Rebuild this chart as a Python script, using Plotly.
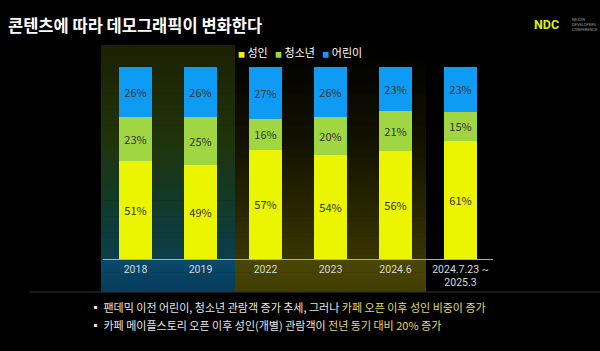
import plotly.graph_objects as go

# ---- data ----
categories = ["2018", "2019", "2022", "2023", "2024.6", "2024.7.23 ~<br>2025.3"]
adult = [51, 49, 57, 54, 56, 61]
teen = [23, 25, 16, 20, 21, 15]
child = [26, 26, 27, 26, 23, 23]
series_names = ["성인", "청소년", "어린이"]
series_colors = ["#EBF500", "#A0D641", "#0E9BF3"]

title_text = "콘텐츠에 따라 데모그래픽이 변화한다"
bullet1_plain = "팬데믹 이전 어린이, 청소년 관람객 증가 추세, 그러나 "
bullet1_hl = "카페 오픈 이후 성인 비중이 증가"
bullet2_plain = "카페 메이플스토리 오픈 이후 성인(개별) 관람객이 "
bullet2_hl = "전년 동기 대비 20% 증가"

# ---- layout helpers (pixel -> paper) ----
W, H = 600, 351
L, R, T, B = 103, 493, 67, 259
FONT = "Noto Sans CJK KR"


def px(x):
    return (x - L) / (R - L)


def py(y):
    return (B - y) / (B - T)


def hex2rgb(h):
    h = h.lstrip("#")
    return tuple(int(h[i:i + 2], 16) for i in (0, 2, 4))


def interp(stops, t):
    for i in range(len(stops) - 1):
        t0, c0 = stops[i]
        t1, c1 = stops[i + 1]
        if t0 <= t <= t1:
            f = (t - t0) / (t1 - t0) if t1 > t0 else 0
            a, b = hex2rgb(c0), hex2rgb(c1)
            return "rgb(%d,%d,%d)" % tuple(round(a[k] + (b[k] - a[k]) * f) for k in range(3))
    return stops[-1][1]


def gradient_rect(x0, x1, y0, y1, stops, n=40):
    shapes = []
    for i in range(n):
        ya = y0 + (y1 - y0) * i / n
        yb = y0 + (y1 - y0) * (i + 1) / n + 0.6
        t = (i + 0.5) / n
        shapes.append(dict(type="rect", xref="paper", yref="paper",
                           x0=px(x0), x1=px(x1), y0=py(ya), y1=py(min(yb, y1)),
                           fillcolor=interp(stops, t), line=dict(width=0),
                           layer="below"))
    return shapes


fig = go.Figure()
labels_all = [adult, teen, child]
for name, vals, col in zip(series_names, labels_all, series_colors):
    fig.add_trace(go.Bar(
        x=categories, y=vals, name=name, marker=dict(color=col, line=dict(width=0)),
        text=[f"{v}%" for v in vals], textposition="inside", insidetextanchor="middle",
        textangle=0, textfont=dict(color="#333333", size=11, family=FONT),
        hoverinfo="skip", showlegend=False))

shapes = []
# panel 1 (2018-2019): olive top -> teal bottom, blue band below axis
shapes += gradient_rect(101, 235, 45, 259,
                        [(0, "#1c2002"), (0.45, "#20340a"), (0.75, "#113a2c"), (1, "#0b3e4a")])
shapes += gradient_rect(101, 235, 259, 292, [(0, "#0b4a6b"), (1, "#063b5c")], n=10)
# panel 2 (2022-2024.6): black top -> olive bottom
shapes += gradient_rect(235, 426, 45, 259,
                        [(0, "#000000"), (0.45, "#121200"), (1, "#383500")])
shapes += gradient_rect(235, 426, 259, 292, [(0, "#4b4805"), (1, "#403d02")], n=10)
# separator line
shapes.append(dict(type="line", xref="paper", yref="paper", x0=px(29), x1=px(600),
                   y0=py(292), y1=py(292), line=dict(color="#333333", width=1), layer="below"))

annotations = [
    dict(text="<b>" + title_text + "</b>", x=px(6), y=py(25), xanchor="left", yanchor="middle",
         font=dict(color="#ffffff", size=16.5, family=FONT)),
    dict(text=("<span style='color:%s;font-size:7px'>■</span> %s   "
               "<span style='color:%s;font-size:7px'>■</span> %s   "
               "<span style='color:%s;font-size:7px'>■</span> %s") % (
        series_colors[0], series_names[0], series_colors[1], series_names[1],
        series_colors[2], series_names[2]),
         x=px(300), y=py(52), xanchor="center", yanchor="middle",
         font=dict(color="#ffffff", size=11, family=FONT)),
    dict(text="▪ " + bullet1_plain + "<span style='color:#E3D96A'>" + bullet1_hl + "</span>",
         x=px(88), y=py(307), xanchor="left", yanchor="middle",
         font=dict(color="#e6e6e6", size=11, family=FONT)),
    dict(text="▪ " + bullet2_plain + "<span style='color:#E3D96A'>" + bullet2_hl + "</span>",
         x=px(88), y=py(325), xanchor="left", yanchor="middle",
         font=dict(color="#e6e6e6", size=11, family=FONT)),
    dict(text="<b>NDC</b>", x=px(546), y=py(24), xanchor="center", yanchor="middle",
         font=dict(color="#DDEE1C", size=12.5, family="Liberation Sans Narrow, Roboto")),
    dict(text="NEXON<br>DEVELOPERS<br>CONFERENCE", x=px(570), y=py(24), xanchor="left",
         yanchor="middle", align="left",
         font=dict(color="#9a9a9a", size=4, family="Roboto")),
]
for a in annotations:
    a.update(xref="paper", yref="paper", showarrow=False)

fig.update_layout(
    width=W, height=H, barmode="stack", barnorm="percent", bargap=1 - 33 / 65,
    margin=dict(l=L, r=W - R, t=T, b=H - B, pad=0),
    paper_bgcolor="#000000", plot_bgcolor="rgba(0,0,0,0)",
    font=dict(family=FONT, color="#ffffff"),
    xaxis=dict(type="category", range=[-0.5, 5.5], showline=True, linecolor="#9fb3bb",
               linewidth=1, showgrid=False, zeroline=False, ticks="",
               tickfont=dict(color="#d8d8d8", size=10.5, family="Roboto")),
    yaxis=dict(range=[0, 100], visible=False, fixedrange=True),
    shapes=shapes, annotations=annotations, showlegend=False,
)

fig.write_html("out.html")
